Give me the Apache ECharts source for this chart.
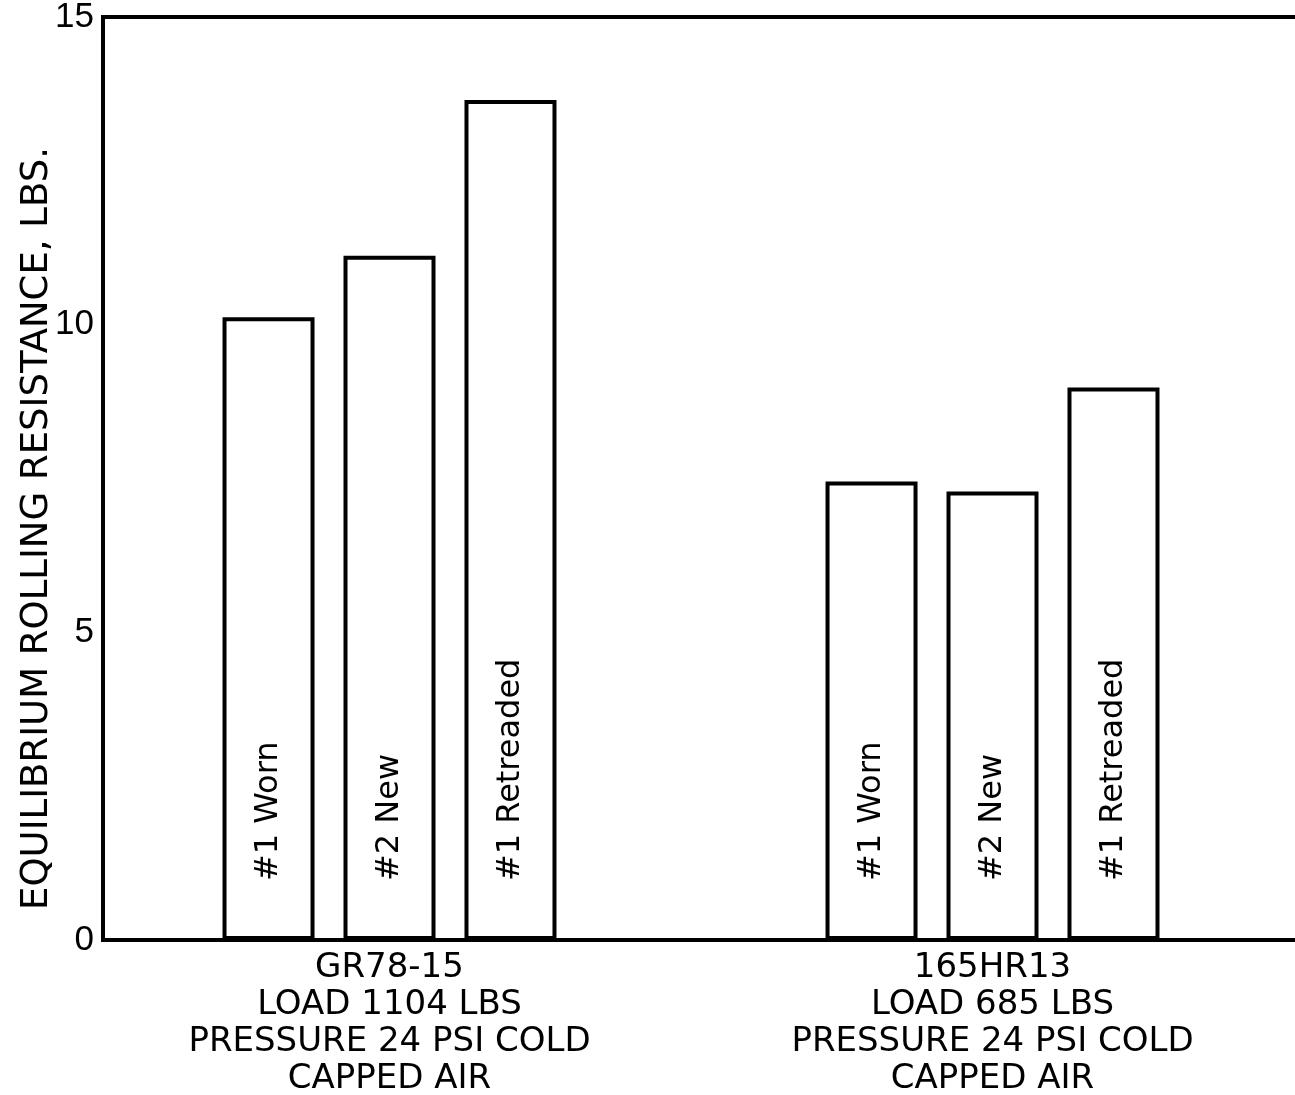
<!DOCTYPE html>
<html>
<head>
<meta charset="utf-8">
<title>Equilibrium rolling resistance</title>
<script src="https://cdn.jsdelivr.net/npm/echarts@6/dist/echarts.min.js"></script>
<style>
  html, body { margin: 0; padding: 0; background: #fff; }
  #chart { width: 1295px; height: 1095px; }
</style>
</head>
<body>
<div id="chart"></div>
<script>
  // tyre groups (x categories)
  var tyres = [
    'GR78-15\nLOAD 1104 LBS\nPRESSURE 24 PSI COLD\nCAPPED AIR',
    '165HR13\nLOAD 685 LBS\nPRESSURE 24 PSI COLD\nCAPPED AIR'
  ];
  var conditions = ['#1 Worn', '#2 New', '#1 Retreaded'];
  // equilibrium rolling resistance, lbs
  var worn = [10.12, 7.45];
  var newTyre = [11.12, 7.29];
  var retreaded = [13.65, 8.98];
  var yTicks = [0, 5, 10, 15];

  var font = "'Liberation Sans', Arial, sans-serif";
  var wideFont = "'DejaVu Sans', Verdana, sans-serif";
  var chart = echarts.init(document.getElementById('chart'));

  function barSeries(name, values) {
    return {
      name: name,
      type: 'bar',
      data: values,
      barWidth: 92,
      barGap: '31.5%',
      itemStyle: { color: '#fff', borderColor: '#000', borderWidth: 4 },
      label: {
        show: true,
        formatter: '{a}',
        position: 'insideBottom',
        distance: 59,
        rotate: 90,
        align: 'left',
        verticalAlign: 'middle',
        color: '#000',
        fontFamily: wideFont,
        fontSize: 32
      },
      silent: true
    };
  }

  var series = [
    barSeries(conditions[0], worn),
    barSeries(conditions[1], newTyre),
    barSeries(conditions[2], retreaded),
    // empty 1px slot, nudges each group a little left like the original drawing
    { type: 'bar', data: [null, null], barWidth: 1, silent: true }
  ];

  var option = {
    backgroundColor: '#fff',
    animation: false,
    grid: {
      left: 103,
      width: 1206, // runs past the right edge, the original has no right frame
      top: 17,
      bottom: 155,
      outerBoundsMode: 'none',
      show: true,
      borderColor: '#000',
      borderWidth: 4,
      backgroundColor: 'transparent'
    },
    xAxis: {
      type: 'category',
      data: tyres,
      axisLine: { show: true, lineStyle: { color: '#000', width: 4 } },
      axisTick: { show: false },
      axisLabel: {
        color: '#000',
        fontFamily: wideFont,
        fontSize: 34,
        lineHeight: 37,
        margin: 10,
        padding: [0, 30, 0, 0] // keeps the text under the middle bar
      }
    },
    yAxis: {
      type: 'value',
      min: yTicks[0],
      max: yTicks[yTicks.length - 1],
      interval: 5,
      name: 'EQUILIBRIUM ROLLING RESISTANCE, LBS.',
      nameLocation: 'middle',
      nameGap: 47,
      nameMoveOverlap: false,
      nameTextStyle: {
        color: '#000',
        fontFamily: wideFont,
        fontSize: 37,
        padding: [0, 100, 0, 0]
      },
      axisLine: { show: true, lineStyle: { color: '#000', width: 4 } },
      axisTick: { show: false },
      splitLine: { show: false },
      axisLabel: {
        color: '#000',
        fontFamily: font,
        fontSize: 35,
        margin: 9
      }
    },
    series: series
  };

  chart.setOption(option);
  window.onresize = function () {
    chart.resize();
  };
</script>
</body>
</html>
